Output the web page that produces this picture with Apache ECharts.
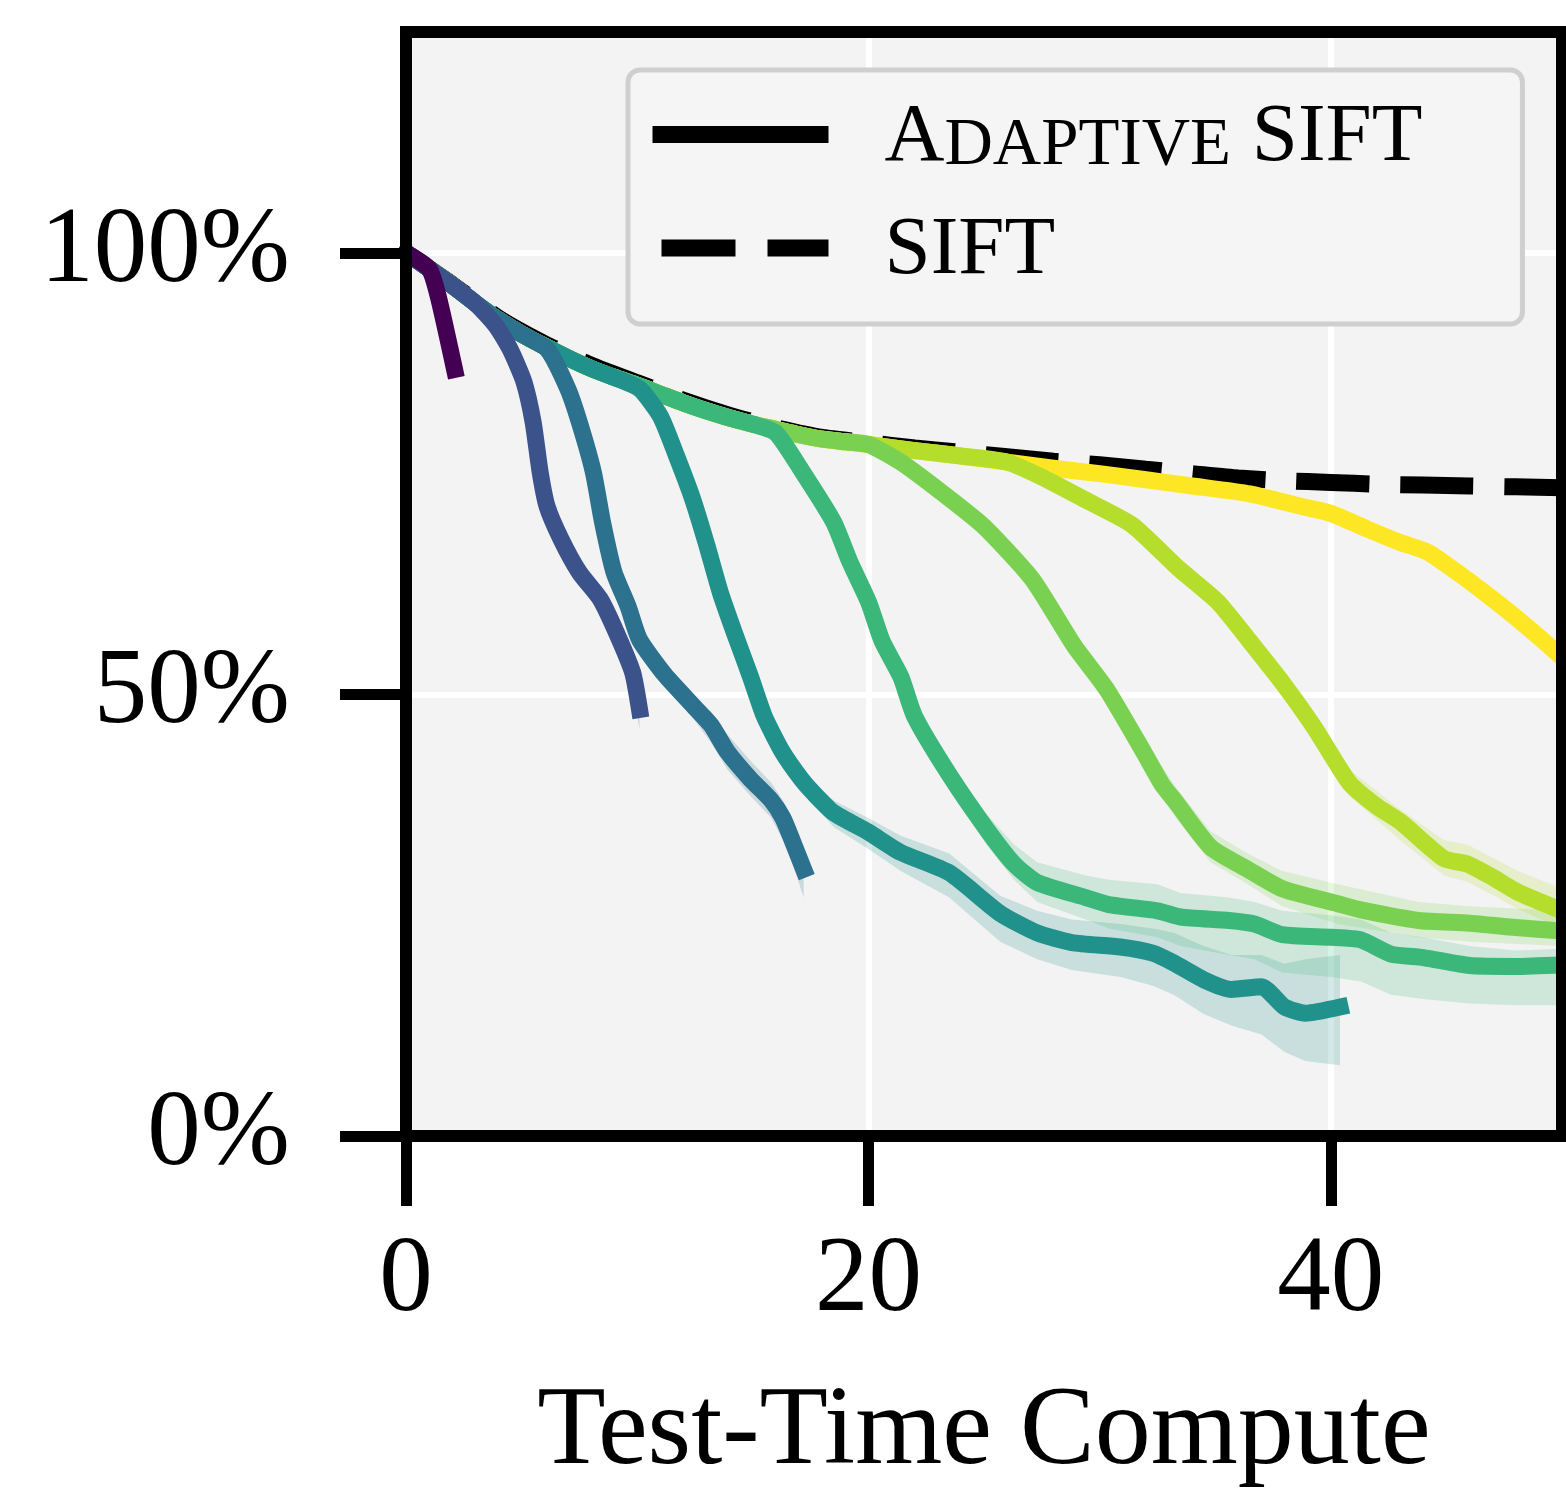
<!DOCTYPE html>
<html>
<head>
<meta charset="utf-8">
<script src="https://cdn.jsdelivr.net/npm/echarts@6/dist/echarts.min.js"></script>
<style>
html,body{margin:0;padding:0;background:#fff;}
#c{width:1566px;height:1502px;}
</style>
</head>
<body>
<div id="c"></div>
<script>
// ---------------- DATA ----------------
const X_TICKS = [0, 20, 40];
const Y_TICKS = [0, 50, 100];
const X_NAME = 'Test-Time Compute';
const LEGEND_NAMES = ['Adaptive SIFT', 'SIFT'];

// shared early part of every adaptive curve
const ENVELOPE = [[0,100],[1,98.2],[2,96.3],[3,94.3],[4,92.4],[5,90.8],[6,89.4],[7,88.1],[8,86.9],[9,85.9],[10,85.0],[11,84.0],[12,83.0],[13,82.1],[14,81.3],[15,80.6],[16,80.0],[17,79.4],[18,78.9],[19,78.6],[20,78.3],[22,77.6],[24,77.0],[26,76.3],[28,75.6],[30,75.0],[32,74.3],[34,73.6]];

const COLORS = ['#440154','#3b528b','#2c718e','#21918c','#3bb77a','#7ad151','#b4dd2c','#fde725'];
const ENV_END = [0, 3, 5, 9, 15, 20, 26, 34];

const TAIL_1 = [[1,98.2],[1.4,95.0],[2.1,86.8]];
const TAIL_2 = [[3.9,91.7],[4.5,89.1],[5.1,85.4],[5.5,80.8],[5.8,75.2],[6.1,71.3],[6.7,67.6],[7.5,63.8],[8.4,60.8],[9.1,57.0],[9.8,52.5],[10.1,48.3]];
const TAIL_3 = [[6.1,89.1],[7,84.6],[7.5,80.8],[8.1,75.2],[8.5,69.5],[9,63.8],[9.6,60.0],[10.1,56.2],[11.2,52.2],[12.5,48.5],[13.2,46.5],[13.9,43.5],[14.9,40.4],[15.8,38.0],[16.3,36.0],[16.7,33.5],[17.2,30.2]];
const TAIL_4 = [[10.1,84.6],[11,81.5],[11.7,77.0],[12.4,72.1],[13,67.0],[13.6,61.5],[14.2,57.0],[14.9,52.0],[15.5,47.5],[16.3,43.4],[17.1,40.4],[17.6,38.9],[18.5,36.6],[20,34.4],[21.4,32.1],[23.5,29.8],[25.7,25.2],[27.3,23.0],[28.8,21.9],[30.9,21.4],[32.3,20.7],[33.2,19.6],[34.5,17.7],[35.7,16.6],[37,16.9],[38,14.6],[38.9,13.9],[40.4,14.6]];
const TAIL_5 = [[16,79.6],[17.1,75.4],[18.5,69.5],[19.2,65.0],[20,60.5],[20.6,56.0],[21.4,52.0],[22,47.5],[23.5,40.9],[25.1,34.8],[26.3,30.8],[27.3,28.7],[29.4,27.0],[30.4,26.2],[32.5,25.5],[33.5,24.8],[35.6,24.4],[36.7,24.0],[37.9,22.8],[40,22.5],[41.3,22.2],[42.6,20.6],[44,20.2],[46,19.3],[48,19.2],[50,19.4]];
const TAIL_6 = [[21.4,76.3],[23.2,72.8],[25,69.0],[27.1,63.0],[28.9,55.5],[30.3,50.6],[31.9,43.5],[32.7,39.8],[33.3,37.8],[34.8,32.7],[36.4,30.2],[37.9,28.0],[40.3,26.3],[41.3,25.6],[43.8,24.4],[46,24.1],[48,23.6],[50,23.2]];
const TAIL_7 = [[27.5,74.6],[29.4,72.0],[31.4,69.2],[33.4,64.3],[35.1,60.5],[36.5,56.0],[38,51.0],[39.3,46.2],[40.8,40.0],[42,37.3],[43,35.6],[44.9,31.4],[45.9,30.8],[47,29.3],[48.1,27.6],[50,25.5]];
const TAIL_8 = [[36.5,72.7],[38.7,71.3],[40,70.5],[41.6,68.7],[43,67.2],[44.2,66.1],[45.9,63.0],[47,60.8],[48.1,58.5],[49,56.5],[50,54.2]];
const TAILS = [TAIL_1, TAIL_2, TAIL_3, TAIL_4, TAIL_5, TAIL_6, TAIL_7, TAIL_8];

// shaded bands: [x, low, high]
const BAND_2 = [[8.4,60.0,61.5],[9.1,56.0,58.0],[9.8,51.0,53.5],[10.1,46.0,49.5]];
const BAND_3 = [[11.2,51.5,53.0],[12.5,47.0,49.5],[13.2,44.5,48.0],[13.9,41.5,45.5],[14.9,38.5,42.5],[15.8,36.0,40.0],[16.3,33.5,38.0],[16.7,31.0,36.0],[17.2,27.0,32.5]];
const BAND_4 = [[16.3,42.5,44.5],[17.1,39.0,41.5],[18.5,35.0,38.0],[20,32.5,36.0],[21.4,30.0,34.0],[23.5,27.0,32.0],[25.7,22.0,27.2],[27.3,20.0,25.5],[28.8,18.8,24.5],[30.9,18.0,24.0],[32.3,17.0,23.5],[33.2,16.0,23.0],[34.5,13.8,21.5],[35.7,12.5,20.5],[37,11.5,20.5],[38,9.5,19.5],[38.9,8.5,20.0],[40.4,8.0,20.5]];
const BAND_5 = [[22,46.0,48.5],[23.5,39.5,42.5],[25.1,33.0,36.5],[26.3,29.0,33.0],[27.3,26.5,31.0],[29.4,24.5,29.5],[30.4,23.5,29.0],[32.5,22.5,28.5],[33.5,21.5,27.5],[35.6,20.5,27.0],[36.7,20.0,26.5],[37.9,18.5,25.5],[40,18.0,25.0],[41.3,17.5,24.5],[42.6,16.0,23.0],[44,15.5,22.5],[46,15.0,21.5],[48,14.8,21.0],[50,14.8,21.2]];
const BAND_6 = [[27.1,61.5,64.5],[28.9,54.0,57.0],[30.3,49.0,52.0],[31.9,41.5,45.0],[33.3,36.0,39.5],[34.8,31.0,34.5],[36.4,28.5,32.0],[37.9,26.0,30.0],[40.3,24.0,28.5],[43.8,22.5,26.5],[46,22.0,26.0],[50,21.5,25.5]];
const BAND_7 = [[36.5,54.5,57.5],[38,49.5,52.5],[39.3,44.5,47.5],[40.8,38.5,41.5],[43,33.5,37.0],[44.9,29.5,33.5],[45.9,28.8,33.0],[47,27.3,31.5],[48.1,25.7,30.0],[50,23.5,28.0]];
const BANDS = [null, BAND_2, BAND_3, BAND_4, BAND_5, BAND_6, BAND_7, null];

const SIFT = [[0,100],[2,96.4],[4,92.6],[6,89.7],[8,87.3],[10,85.3],[12,83.3],[14,81.6],[16,80.2],[18,79.1],[20,78.5],[22,77.9],[24,77.4],[26,76.9],[28,76.4],[30,76.0],[32,75.5],[34,75.0],[36,74.5],[38,74.2],[40,74.0],[42,73.8],[44,73.7],[46,73.6],[48,73.5],[50,73.4]];

// ---------------- CHART ----------------
const FONT = 'Liberation Serif';
const SMOOTH = 0.2;
const LW = 17;

function rgba(hex, a) {
  const n = parseInt(hex.slice(1), 16);
  return 'rgba(' + ((n >> 16) & 255) + ',' + ((n >> 8) & 255) + ',' + (n & 255) + ',' + a + ')';
}

const series = [];
// confidence bands (custom polygons placed through the axes' scales)
BANDS.forEach((band, i) => {
  if (!band) return;
  series.push({
    type: 'custom', name: 'band' + i, z: 2, silent: true, clip: true,
    data: band,
    encode: { x: 0, y: [1, 2] },
    renderItem: function (params, api) {
      if (params.dataIndex !== 0) return null;
      const pts = [];
      for (let k = 0; k < band.length; k++) pts.push(api.coord([band[k][0], band[k][2]]));
      for (let k = band.length - 1; k >= 0; k--) pts.push(api.coord([band[k][0], band[k][1]]));
      return { type: 'polygon', shape: { points: pts }, style: { fill: rgba(COLORS[i], 0.2) } };
    }
  });
});
// SIFT dashed (underneath the adaptive curves)
series.push({
  type: 'line', name: 'SIFT', z: 3, smooth: SMOOTH, symbol: 'none', data: SIFT,
  color: '#000',
  lineStyle: { color: '#000', width: LW, type: [73, 31], cap: 'butt' }
});
// adaptive curves: larger budgets drawn first, smaller budgets on top
TAILS.forEach((tail, i) => {
  const data = ENVELOPE.filter(p => p[0] <= ENV_END[i]).concat(tail);
  series.push({
    type: 'line', name: 'curve' + i, z: 11 - i, smooth: SMOOTH, symbol: 'none', data: data,
    color: COLORS[i],
    lineStyle: { color: COLORS[i], width: LW, cap: 'square', join: 'round' }
  });
});
// legend-only series
series.push({
  type: 'line', name: LEGEND_NAMES[0], z: 4, symbol: 'none', data: [],
  color: '#000', lineStyle: { color: '#000', width: LW }
});

const spine = { show: true, onZero: false, lineStyle: { color: '#000', width: 12, cap: 'square' } };
const off = { show: false };

const option = {
  animation: false,
  backgroundColor: '#ffffff',
  grid: {
    left: 406, top: 32, width: 1156, height: 1104,
    show: true, backgroundColor: '#f3f3f3', borderWidth: 0,
    containLabel: false, outerBoundsMode: 'none'
  },
  xAxis: [
    {
      type: 'value', min: 0, max: 50, interval: 20, position: 'bottom', z: 20,
      axisLine: spine,
      axisTick: { show: true, inside: false, length: 70, customValues: X_TICKS, lineStyle: { color: '#000', width: 11 } },
      axisLabel: { show: true, customValues: X_TICKS, margin: 92, fontFamily: FONT, fontSize: 107, color: '#000' },
      splitLine: off,
      name: X_NAME, nameLocation: 'middle', nameGap: 242,
      nameTextStyle: { fontFamily: FONT, fontSize: 112, color: '#000' }
    },
    {
      type: 'value', min: 0, max: 50, position: 'top', z: 20,
      axisLine: spine, axisTick: off, axisLabel: off, splitLine: off
    },
    {
      type: 'value', min: 0, max: 50, interval: 20, position: 'bottom', z: 1,
      axisLine: off, axisTick: off, axisLabel: off,
      splitLine: { show: true, lineStyle: { color: '#ffffff', width: 6 } }
    }
  ],
  yAxis: [
    {
      type: 'value', min: 0, max: 125, interval: 50, position: 'left', z: 20,
      axisLine: spine,
      axisTick: { show: true, inside: false, length: 66, customValues: Y_TICKS, lineStyle: { color: '#000', width: 11 } },
      axisLabel: { show: true, customValues: Y_TICKS, margin: 116, fontFamily: FONT, fontSize: 107, color: '#000',
        formatter: v => v + '%' },
      splitLine: off
    },
    {
      type: 'value', min: 0, max: 125, position: 'right', z: 20,
      axisLine: spine, axisTick: off, axisLabel: off, splitLine: off
    },
    {
      type: 'value', min: 0, max: 125, interval: 50, position: 'left', z: 1,
      axisLine: off, axisTick: off, axisLabel: off,
      splitLine: { show: true, lineStyle: { color: '#ffffff', width: 6 } }
    }
  ],
  legend: {
    show: true, orient: 'vertical', left: 628, top: 70, z: 30,
    selectedMode: false,
    itemWidth: 176, itemHeight: 20, itemGap: 27,
    padding: [23, 100, 31, 16],
    backgroundColor: '#f5f5f5', borderColor: '#cfcfcf', borderWidth: 5, borderRadius: 12,
    data: [
      { name: LEGEND_NAMES[0], itemStyle: { opacity: 0 }, lineStyle: { color: '#000', width: LW, type: 'solid', cap: 'butt' } },
      { name: LEGEND_NAMES[1], itemStyle: { opacity: 0 }, lineStyle: { color: '#000', width: LW, type: [74, 32], dashOffset: 97, cap: 'butt' } }
    ],
    formatter: function (name) {
      if (name === LEGEND_NAMES[0]) return '{s|}{a|A}{b|DAPTIVE}{a| SIFT}';
      return '{s|}{a|' + name + '}';
    },
    textStyle: {
      fontFamily: FONT, fontSize: 83, color: '#000',
      rich: {
        s: { width: 51, height: 10 },
        a: { fontFamily: FONT, fontSize: 83, color: '#000', lineHeight: 90, verticalAlign: 'bottom' },
        b: { fontFamily: FONT, fontSize: 67, color: '#000', lineHeight: 90, verticalAlign: 'bottom' }
      }
    }
  },
  series: series
};

const chart = echarts.init(document.getElementById('c'), null, { renderer: 'canvas', width: 1566, height: 1502 });
chart.setOption(option);
</script>
</body>
</html>
